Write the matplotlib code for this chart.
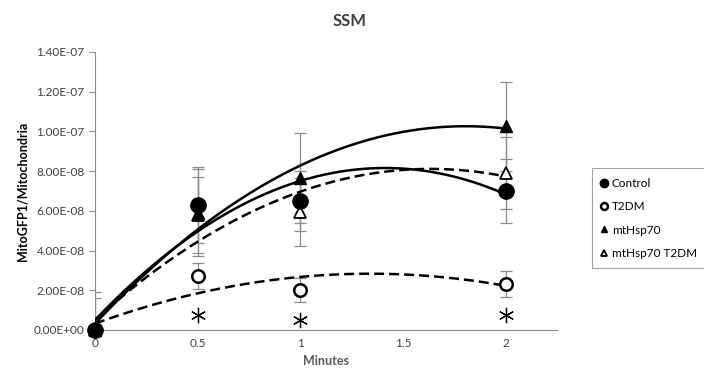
import numpy as np
import matplotlib
matplotlib.use("Agg")
import matplotlib.pyplot as plt

plt.rcParams['font.family'] = ['Lato', 'DejaVu Sans']

minutes = [0, 0.5, 1, 2]
control = [0.0, 6.3e-8, 6.5e-8, 7.0e-8]
control_err = [1.9e-8, 1.9e-8, 1.5e-8, 1.6e-8]
t2dm = [0.0, 2.7e-8, 2.03e-8, 2.33e-8]
t2dm_err = [0.0, 0.65e-8, 0.6e-8, 0.65e-8]
mthsp70 = [0.0, 5.9e-8, 7.65e-8, 1.025e-7]
mthsp70_err = [1.6e-8, 2.2e-8, 2.25e-8, 2.25e-8]
mthsp70_t2dm = [0.0, 5.8e-8, 5.95e-8, 7.9e-8]
mthsp70_t2dm_err = [0.0, 1.9e-8, 1.7e-8, 1.8e-8]
asterisk_x = [0.5, 1, 2]
asterisk_y = [0.75e-8, 0.5e-8, 0.75e-8]

fig = plt.figure(figsize=(7.04, 3.85), dpi=100)
ax = fig.add_axes([0.135, 0.143, 0.656, 0.722])

series = [
    ("Control", control, control_err, dict(marker='o', ms=11, mfc='black', mec='black'), '-', 7),
    ("T2DM", t2dm, t2dm_err, dict(marker='o', ms=9, mfc='white', mec='black', mew=1.8), '--', 5),
    ("mtHsp70", mthsp70, mthsp70_err, dict(marker='^', ms=9, mfc='black', mec='black'), '-', 6),
    ("mtHsp70 T2DM", mthsp70_t2dm, mthsp70_t2dm_err, dict(marker='^', ms=9, mfc='white', mec='black', mew=1.3), '--', 5),
]

xs = np.linspace(0, 2, 200)
handles = []
for name, vals, err, mk, ls, z in series:
    ax.errorbar(minutes, vals, yerr=err, fmt='none', ecolor='#8c8c8c', elinewidth=0.9,
                capsize=4, capthick=0.9, zorder=2)
    coef = np.polyfit(minutes, vals, 2)
    ax.plot(xs, np.polyval(coef, xs), color='black', lw=1.8, ls=ls,
            dashes=(4, 2) if ls == '--' else (None, None), zorder=3)
    h, = ax.plot(minutes, vals, ls='none', zorder=z, clip_on=False, **mk)
    handles.append(h)

ax.plot(asterisk_x, asterisk_y, ls='none', marker=(6, 2, 0), ms=11, mew=0.9,
        color='black', zorder=5)

ax.set_xlim(0, 2.25)
ax.set_ylim(0, 1.4e-7)
ax.set_xticks([0, 0.5, 1, 1.5, 2])
ax.set_xticklabels(['0', '0.5', '1', '1.5', '2'])
yt = np.arange(0, 1.41e-7, 2e-8)
ax.set_yticks(yt)
ax.set_yticklabels(['%.2E' % v for v in yt])
ax.tick_params(axis='both', labelsize=8.5, colors='#404040')
ax.tick_params(axis='x', length=0, pad=6)
ax.tick_params(axis='y', length=4, color='#8c8c8c', direction='out')
for s in ['top', 'right']:
    ax.spines[s].set_visible(False)
for s in ['left', 'bottom']:
    ax.spines[s].set_color('#8c8c8c')

ax.set_xlabel('Minutes', fontsize=9, fontweight='bold', color='#595959')
ax.set_ylabel('MitoGFP1/Mitochondria', fontsize=9, fontweight='bold', color='#000000')
fig.text(0.497, 0.945, 'SSM', ha='center', va='center', fontsize=12, fontweight='bold', color='#404040')

leg = fig.legend(handles, [s[0] for s in series], loc='upper left',
                 bbox_to_anchor=(0.832, 0.578), frameon=True, fancybox=False,
                 fontsize=8.5, handlelength=0.5, handletextpad=0.4, labelspacing=1.05,
                 markerscale=0.55, borderpad=0.8)
leg.get_frame().set_edgecolor('#8c8c8c')
leg.get_frame().set_linewidth(0.8)

fig.savefig('out.png', dpi=100)
